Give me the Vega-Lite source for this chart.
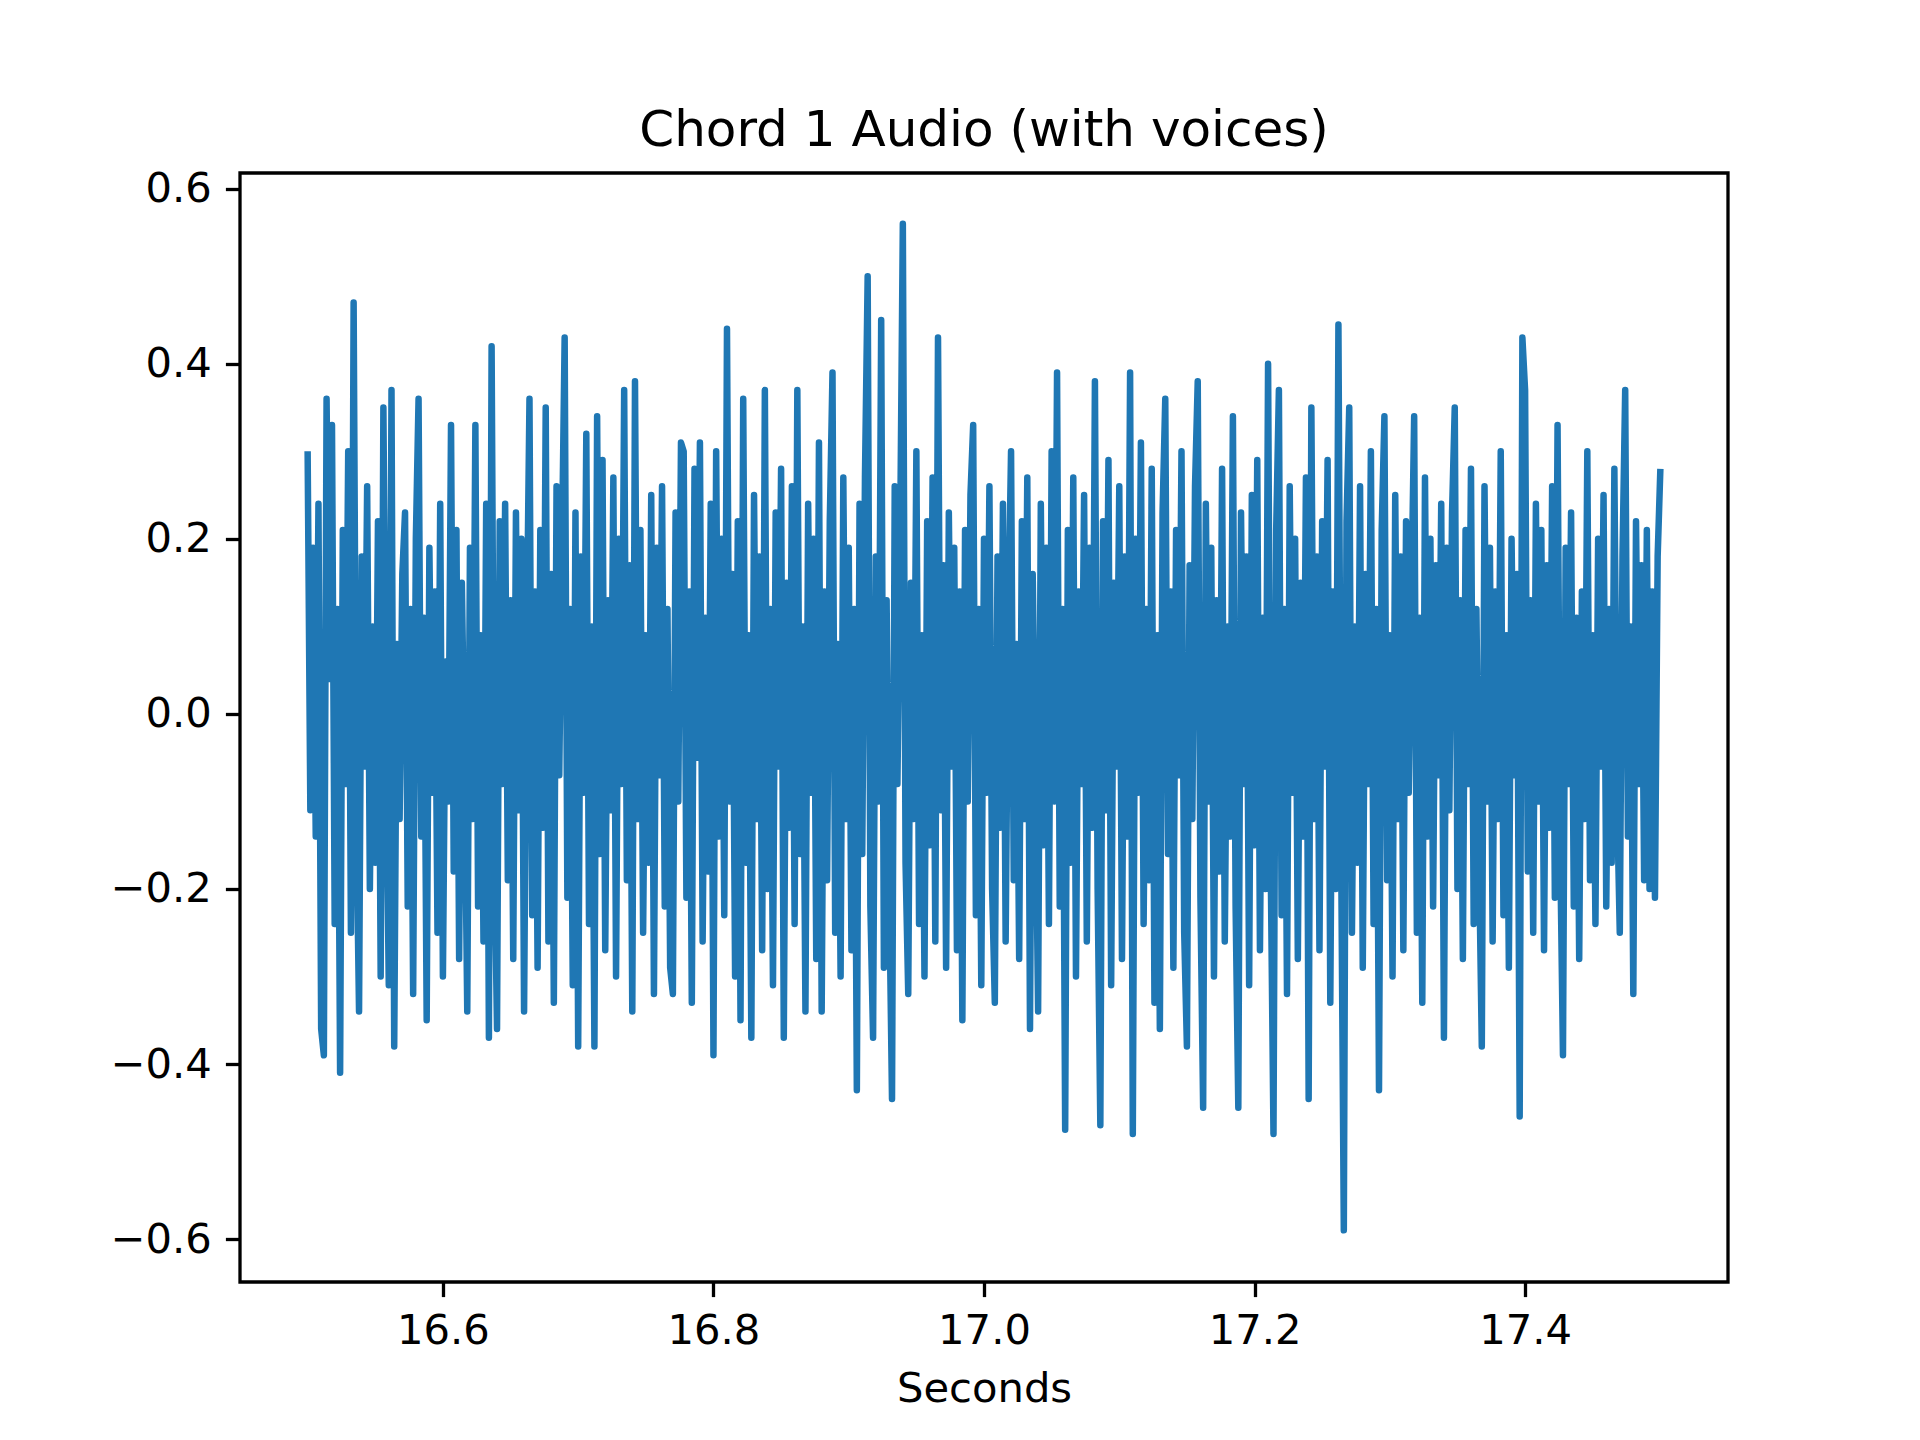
{
  "$schema": "https://vega.github.io/schema/vega-lite/v6.json",
  "autosize": "none",
  "width": 1488,
  "height": 1109,
  "padding": {"left": 240, "top": 173, "right": 192, "bottom": 158},
  "background": "white",
  "title": {
    "text": "Chord 1 Audio (with voices)",
    "font": "DejaVu Sans",
    "fontSize": 50,
    "fontWeight": "normal",
    "color": "black",
    "anchor": "middle",
    "baseline": "alphabetic",
    "offset": -27
  },
  "data": {
    "values": [
      {"s":16.500,"a":0.30},{"s":16.502,"a":-0.11},{"s":16.504,"a":0.19},{"s":16.506,"a":-0.14},{"s":16.508,"a":0.24},{"s":16.510,"a":-0.36},{"s":16.512,"a":-0.39},{"s":16.514,"a":0.36},{"s":16.516,"a":0.04},{"s":16.518,"a":0.33},
      {"s":16.520,"a":-0.24},{"s":16.522,"a":0.12},{"s":16.524,"a":-0.41},{"s":16.526,"a":0.21},{"s":16.528,"a":-0.08},{"s":16.530,"a":0.30},{"s":16.532,"a":-0.25},{"s":16.534,"a":0.47},{"s":16.536,"a":-0.12},{"s":16.538,"a":-0.34},
      {"s":16.540,"a":0.18},{"s":16.542,"a":-0.06},{"s":16.544,"a":0.26},{"s":16.546,"a":-0.20},{"s":16.548,"a":0.10},{"s":16.550,"a":-0.17},{"s":16.552,"a":0.22},{"s":16.554,"a":-0.30},{"s":16.556,"a":0.35},{"s":16.558,"a":-0.05},
      {"s":16.560,"a":-0.31},{"s":16.562,"a":0.37},{"s":16.564,"a":-0.38},{"s":16.566,"a":0.08},{"s":16.568,"a":-0.12},{"s":16.570,"a":0.16},{"s":16.572,"a":0.23},{"s":16.574,"a":-0.22},{"s":16.576,"a":0.12},{"s":16.578,"a":-0.32},
      {"s":16.580,"a":0.20},{"s":16.582,"a":0.36},{"s":16.584,"a":-0.14},{"s":16.586,"a":0.11},{"s":16.588,"a":-0.35},{"s":16.590,"a":0.19},{"s":16.592,"a":-0.09},{"s":16.594,"a":0.14},{"s":16.596,"a":-0.25},{"s":16.598,"a":0.24},
      {"s":16.600,"a":-0.30},{"s":16.602,"a":0.06},{"s":16.604,"a":-0.10},{"s":16.606,"a":0.33},{"s":16.608,"a":-0.18},{"s":16.610,"a":0.21},{"s":16.612,"a":-0.28},{"s":16.614,"a":0.15},{"s":16.616,"a":-0.06},{"s":16.618,"a":-0.34},
      {"s":16.620,"a":0.19},{"s":16.622,"a":-0.12},{"s":16.624,"a":0.33},{"s":16.626,"a":-0.22},{"s":16.628,"a":0.09},{"s":16.630,"a":-0.26},{"s":16.632,"a":0.24},{"s":16.634,"a":-0.37},{"s":16.636,"a":0.42},{"s":16.638,"a":-0.15},
      {"s":16.640,"a":-0.36},{"s":16.642,"a":0.22},{"s":16.644,"a":-0.08},{"s":16.646,"a":0.24},{"s":16.648,"a":-0.19},{"s":16.650,"a":0.13},{"s":16.652,"a":-0.28},{"s":16.654,"a":0.23},{"s":16.656,"a":-0.11},{"s":16.658,"a":0.20},
      {"s":16.660,"a":-0.34},{"s":16.662,"a":0.09},{"s":16.664,"a":0.36},{"s":16.666,"a":-0.23},{"s":16.668,"a":0.14},{"s":16.670,"a":-0.29},{"s":16.672,"a":0.21},{"s":16.674,"a":-0.13},{"s":16.676,"a":0.35},{"s":16.678,"a":-0.26},
      {"s":16.680,"a":0.16},{"s":16.682,"a":-0.33},{"s":16.684,"a":0.26},{"s":16.686,"a":-0.07},{"s":16.688,"a":0.19},{"s":16.690,"a":0.43},{"s":16.692,"a":-0.21},{"s":16.694,"a":0.12},{"s":16.696,"a":-0.31},{"s":16.698,"a":0.23},
      {"s":16.700,"a":-0.38},{"s":16.702,"a":0.18},{"s":16.704,"a":-0.09},{"s":16.706,"a":0.32},{"s":16.708,"a":-0.24},{"s":16.710,"a":0.10},{"s":16.712,"a":-0.38},{"s":16.714,"a":0.34},{"s":16.716,"a":-0.16},{"s":16.718,"a":0.29},
      {"s":16.720,"a":-0.27},{"s":16.722,"a":0.13},{"s":16.724,"a":-0.11},{"s":16.726,"a":0.27},{"s":16.728,"a":-0.30},{"s":16.730,"a":0.20},{"s":16.732,"a":-0.08},{"s":16.734,"a":0.37},{"s":16.736,"a":-0.19},{"s":16.738,"a":0.17},
      {"s":16.740,"a":-0.34},{"s":16.742,"a":0.38},{"s":16.744,"a":-0.12},{"s":16.746,"a":0.21},{"s":16.748,"a":-0.25},{"s":16.750,"a":0.09},{"s":16.752,"a":-0.17},{"s":16.754,"a":0.25},{"s":16.756,"a":-0.32},{"s":16.758,"a":0.19},
      {"s":16.760,"a":-0.07},{"s":16.762,"a":0.26},{"s":16.764,"a":-0.22},{"s":16.766,"a":0.12},{"s":16.768,"a":-0.29},{"s":16.770,"a":-0.32},{"s":16.772,"a":0.23},{"s":16.774,"a":-0.10},{"s":16.776,"a":0.31},{"s":16.778,"a":0.30},
      {"s":16.780,"a":-0.21},{"s":16.782,"a":0.14},{"s":16.784,"a":-0.33},{"s":16.786,"a":0.28},{"s":16.788,"a":-0.05},{"s":16.790,"a":0.31},{"s":16.792,"a":-0.26},{"s":16.794,"a":0.11},{"s":16.796,"a":-0.18},{"s":16.798,"a":0.24},
      {"s":16.800,"a":-0.39},{"s":16.802,"a":0.30},{"s":16.804,"a":-0.14},{"s":16.806,"a":0.20},{"s":16.808,"a":-0.23},{"s":16.810,"a":0.44},{"s":16.812,"a":-0.10},{"s":16.814,"a":0.16},{"s":16.816,"a":-0.30},{"s":16.818,"a":0.22},
      {"s":16.820,"a":-0.35},{"s":16.822,"a":0.36},{"s":16.824,"a":-0.17},{"s":16.826,"a":0.09},{"s":16.828,"a":-0.37},{"s":16.830,"a":0.25},{"s":16.832,"a":-0.12},{"s":16.834,"a":0.18},{"s":16.836,"a":-0.27},{"s":16.838,"a":0.37},
      {"s":16.840,"a":-0.20},{"s":16.842,"a":0.12},{"s":16.844,"a":-0.31},{"s":16.846,"a":0.23},{"s":16.848,"a":-0.06},{"s":16.850,"a":0.28},{"s":16.852,"a":-0.37},{"s":16.854,"a":0.15},{"s":16.856,"a":-0.13},{"s":16.858,"a":0.26},
      {"s":16.860,"a":-0.24},{"s":16.862,"a":0.37},{"s":16.864,"a":-0.16},{"s":16.866,"a":0.10},{"s":16.868,"a":-0.34},{"s":16.870,"a":0.24},{"s":16.872,"a":-0.09},{"s":16.874,"a":0.20},{"s":16.876,"a":-0.28},{"s":16.878,"a":0.31},
      {"s":16.880,"a":-0.34},{"s":16.882,"a":0.14},{"s":16.884,"a":-0.19},{"s":16.886,"a":0.22},{"s":16.888,"a":0.39},{"s":16.890,"a":-0.25},{"s":16.892,"a":0.08},{"s":16.894,"a":-0.30},{"s":16.896,"a":0.27},{"s":16.898,"a":-0.12},
      {"s":16.900,"a":0.19},{"s":16.902,"a":-0.27},{"s":16.904,"a":0.12},{"s":16.906,"a":-0.43},{"s":16.908,"a":0.24},{"s":16.910,"a":-0.16},{"s":16.912,"a":0.27},{"s":16.914,"a":0.50},{"s":16.916,"a":-0.22},{"s":16.918,"a":-0.37},
      {"s":16.920,"a":0.18},{"s":16.922,"a":-0.10},{"s":16.924,"a":0.45},{"s":16.926,"a":-0.29},{"s":16.928,"a":0.13},{"s":16.930,"a":-0.21},{"s":16.932,"a":-0.44},{"s":16.934,"a":0.26},{"s":16.936,"a":-0.08},{"s":16.938,"a":0.20},
      {"s":16.940,"a":0.56},{"s":16.942,"a":-0.17},{"s":16.944,"a":-0.32},{"s":16.946,"a":0.15},{"s":16.948,"a":-0.12},{"s":16.950,"a":0.30},{"s":16.952,"a":-0.24},{"s":16.954,"a":0.09},{"s":16.956,"a":-0.30},{"s":16.958,"a":0.22},
      {"s":16.960,"a":-0.15},{"s":16.962,"a":0.27},{"s":16.964,"a":-0.26},{"s":16.966,"a":0.43},{"s":16.968,"a":-0.11},{"s":16.970,"a":0.17},{"s":16.972,"a":-0.29},{"s":16.974,"a":0.23},{"s":16.976,"a":-0.06},{"s":16.978,"a":0.19},
      {"s":16.980,"a":-0.27},{"s":16.982,"a":0.14},{"s":16.984,"a":-0.35},{"s":16.986,"a":0.21},{"s":16.988,"a":-0.10},{"s":16.990,"a":0.25},{"s":16.992,"a":0.33},{"s":16.994,"a":-0.23},{"s":16.996,"a":0.12},{"s":16.998,"a":-0.31},
      {"s":17.000,"a":0.20},{"s":17.002,"a":-0.09},{"s":17.004,"a":0.26},{"s":17.006,"a":-0.20},{"s":17.008,"a":-0.33},{"s":17.010,"a":0.18},{"s":17.012,"a":-0.13},{"s":17.014,"a":0.24},{"s":17.016,"a":-0.26},{"s":17.018,"a":0.11},
      {"s":17.020,"a":0.30},{"s":17.022,"a":-0.19},{"s":17.024,"a":0.08},{"s":17.026,"a":-0.28},{"s":17.028,"a":0.22},{"s":17.030,"a":-0.12},{"s":17.032,"a":0.27},{"s":17.034,"a":-0.36},{"s":17.036,"a":0.16},{"s":17.038,"a":-0.07},
      {"s":17.040,"a":-0.34},{"s":17.042,"a":0.24},{"s":17.044,"a":-0.15},{"s":17.046,"a":0.19},{"s":17.048,"a":-0.24},{"s":17.050,"a":0.30},{"s":17.052,"a":-0.10},{"s":17.054,"a":0.39},{"s":17.056,"a":-0.22},{"s":17.058,"a":0.12},
      {"s":17.060,"a":-0.475},{"s":17.062,"a":0.21},{"s":17.064,"a":-0.17},{"s":17.066,"a":0.27},{"s":17.068,"a":-0.30},{"s":17.070,"a":0.14},{"s":17.072,"a":-0.08},{"s":17.074,"a":0.25},{"s":17.076,"a":-0.26},{"s":17.078,"a":0.19},
      {"s":17.080,"a":-0.13},{"s":17.082,"a":0.38},{"s":17.084,"a":-0.20},{"s":17.086,"a":-0.47},{"s":17.088,"a":0.22},{"s":17.090,"a":-0.11},{"s":17.092,"a":0.29},{"s":17.094,"a":-0.31},{"s":17.096,"a":0.15},{"s":17.098,"a":-0.06},
      {"s":17.100,"a":0.26},{"s":17.102,"a":-0.28},{"s":17.104,"a":0.18},{"s":17.106,"a":-0.14},{"s":17.108,"a":0.39},{"s":17.110,"a":-0.48},{"s":17.112,"a":0.20},{"s":17.114,"a":-0.09},{"s":17.116,"a":0.31},{"s":17.118,"a":-0.24},
      {"s":17.120,"a":0.12},{"s":17.122,"a":-0.19},{"s":17.124,"a":0.28},{"s":17.126,"a":-0.33},{"s":17.128,"a":0.09},{"s":17.130,"a":-0.36},{"s":17.132,"a":0.23},{"s":17.134,"a":0.36},{"s":17.136,"a":-0.16},{"s":17.138,"a":0.14},
      {"s":17.140,"a":-0.29},{"s":17.142,"a":0.21},{"s":17.144,"a":-0.07},{"s":17.146,"a":0.30},{"s":17.148,"a":-0.25},{"s":17.150,"a":-0.38},{"s":17.152,"a":0.17},{"s":17.154,"a":-0.12},{"s":17.156,"a":0.26},{"s":17.158,"a":0.38},
      {"s":17.160,"a":-0.21},{"s":17.162,"a":-0.45},{"s":17.164,"a":0.24},{"s":17.166,"a":-0.10},{"s":17.168,"a":0.19},{"s":17.170,"a":-0.30},{"s":17.172,"a":0.13},{"s":17.174,"a":-0.18},{"s":17.176,"a":0.28},{"s":17.178,"a":-0.26},
      {"s":17.180,"a":0.10},{"s":17.182,"a":-0.14},{"s":17.184,"a":0.34},{"s":17.186,"a":-0.22},{"s":17.188,"a":-0.45},{"s":17.190,"a":0.23},{"s":17.192,"a":-0.08},{"s":17.194,"a":0.18},{"s":17.196,"a":-0.31},{"s":17.198,"a":0.25},
      {"s":17.200,"a":-0.15},{"s":17.202,"a":0.29},{"s":17.204,"a":-0.27},{"s":17.206,"a":0.11},{"s":17.208,"a":-0.20},{"s":17.210,"a":0.40},{"s":17.212,"a":-0.18},{"s":17.214,"a":-0.48},{"s":17.216,"a":0.21},{"s":17.218,"a":0.37},
      {"s":17.220,"a":-0.23},{"s":17.222,"a":0.12},{"s":17.224,"a":-0.32},{"s":17.226,"a":0.26},{"s":17.228,"a":-0.09},{"s":17.230,"a":0.20},{"s":17.232,"a":-0.28},{"s":17.234,"a":0.15},{"s":17.236,"a":-0.14},{"s":17.238,"a":0.27},
      {"s":17.240,"a":-0.44},{"s":17.242,"a":0.35},{"s":17.244,"a":-0.12},{"s":17.246,"a":0.18},{"s":17.248,"a":-0.27},{"s":17.250,"a":0.22},{"s":17.252,"a":-0.06},{"s":17.254,"a":0.29},{"s":17.256,"a":-0.33},{"s":17.258,"a":0.14},
      {"s":17.260,"a":-0.20},{"s":17.262,"a":0.445},{"s":17.264,"a":-0.15},{"s":17.266,"a":-0.59},{"s":17.268,"a":0.22},{"s":17.270,"a":0.35},{"s":17.272,"a":-0.25},{"s":17.274,"a":0.10},{"s":17.276,"a":-0.17},{"s":17.278,"a":0.26},
      {"s":17.280,"a":-0.29},{"s":17.282,"a":0.16},{"s":17.284,"a":-0.08},{"s":17.286,"a":0.30},{"s":17.288,"a":-0.24},{"s":17.290,"a":0.12},{"s":17.292,"a":-0.43},{"s":17.294,"a":0.21},{"s":17.296,"a":0.34},{"s":17.298,"a":-0.19},
      {"s":17.300,"a":0.09},{"s":17.302,"a":-0.30},{"s":17.304,"a":0.25},{"s":17.306,"a":-0.12},{"s":17.308,"a":0.18},{"s":17.310,"a":-0.27},{"s":17.312,"a":0.22},{"s":17.314,"a":-0.09},{"s":17.316,"a":0.14},{"s":17.318,"a":0.34},
      {"s":17.320,"a":-0.25},{"s":17.322,"a":0.11},{"s":17.324,"a":-0.33},{"s":17.326,"a":0.27},{"s":17.328,"a":-0.14},{"s":17.330,"a":0.20},{"s":17.332,"a":-0.22},{"s":17.334,"a":0.17},{"s":17.336,"a":-0.07},{"s":17.338,"a":0.24},
      {"s":17.340,"a":-0.37},{"s":17.342,"a":0.19},{"s":17.344,"a":-0.11},{"s":17.346,"a":0.23},{"s":17.348,"a":0.35},{"s":17.350,"a":-0.20},{"s":17.352,"a":0.13},{"s":17.354,"a":-0.28},{"s":17.356,"a":0.21},{"s":17.358,"a":-0.08},
      {"s":17.360,"a":0.28},{"s":17.362,"a":-0.24},{"s":17.364,"a":0.12},{"s":17.366,"a":-0.17},{"s":17.368,"a":-0.38},{"s":17.370,"a":0.26},{"s":17.372,"a":-0.10},{"s":17.374,"a":0.19},{"s":17.376,"a":-0.26},{"s":17.378,"a":0.14},
      {"s":17.380,"a":-0.12},{"s":17.382,"a":0.30},{"s":17.384,"a":-0.23},{"s":17.386,"a":0.09},{"s":17.388,"a":-0.29},{"s":17.390,"a":0.20},{"s":17.392,"a":-0.07},{"s":17.394,"a":0.16},{"s":17.396,"a":-0.46},{"s":17.398,"a":0.43},
      {"s":17.400,"a":0.37},{"s":17.402,"a":-0.18},{"s":17.404,"a":0.13},{"s":17.406,"a":-0.25},{"s":17.408,"a":0.24},{"s":17.410,"a":-0.10},{"s":17.412,"a":0.21},{"s":17.414,"a":-0.27},{"s":17.416,"a":0.17},{"s":17.418,"a":-0.13},
      {"s":17.420,"a":0.26},{"s":17.422,"a":-0.21},{"s":17.424,"a":0.33},{"s":17.426,"a":-0.16},{"s":17.428,"a":-0.39},{"s":17.430,"a":0.19},{"s":17.432,"a":-0.08},{"s":17.434,"a":0.23},{"s":17.436,"a":-0.22},{"s":17.438,"a":0.11},
      {"s":17.440,"a":-0.28},{"s":17.442,"a":0.14},{"s":17.444,"a":-0.12},{"s":17.446,"a":0.30},{"s":17.448,"a":-0.19},{"s":17.450,"a":0.09},{"s":17.452,"a":-0.24},{"s":17.454,"a":0.20},{"s":17.456,"a":-0.06},{"s":17.458,"a":0.25},
      {"s":17.460,"a":-0.22},{"s":17.462,"a":0.12},{"s":17.464,"a":-0.17},{"s":17.466,"a":0.28},{"s":17.468,"a":-0.10},{"s":17.470,"a":-0.25},{"s":17.472,"a":0.18},{"s":17.474,"a":0.37},{"s":17.476,"a":-0.14},{"s":17.478,"a":0.10},
      {"s":17.480,"a":-0.32},{"s":17.482,"a":0.22},{"s":17.484,"a":-0.08},{"s":17.486,"a":0.17},{"s":17.488,"a":-0.19},{"s":17.490,"a":0.21},{"s":17.492,"a":-0.20},{"s":17.494,"a":0.14},{"s":17.496,"a":-0.21},{"s":17.498,"a":0.18},
      {"s":17.500,"a":0.28}
    ]
  },
  "mark": {
    "type": "line",
    "color": "#1f77b4",
    "strokeWidth": 6.5,
    "strokeJoin": "round",
    "strokeCap": "butt",
    "clip": true
  },
  "encoding": {
    "x": {
      "field": "s",
      "type": "quantitative",
      "title": "Seconds",
      "scale": {"domain": [16.45, 17.55], "nice": false, "zero": false},
      "axis": {
        "values": [16.6, 16.8, 17.0, 17.2, 17.4],
        "format": ".1f",
        "grid": false,
        "domain": false,
        "titlePadding": 16,
        "titleBaseline": "top"
      }
    },
    "y": {
      "field": "a",
      "type": "quantitative",
      "title": null,
      "scale": {"domain": [-0.649, 0.618], "nice": false, "zero": false},
      "axis": {
        "values": [-0.6, -0.4, -0.2, 0.0, 0.2, 0.4, 0.6],
        "format": ".1f",
        "grid": false,
        "domain": false
      }
    }
  },
  "config": {
    "font": "DejaVu Sans",
    "view": {"stroke": "black", "strokeWidth": 3.3, "fill": "white"},
    "axis": {
      "labelFont": "DejaVu Sans",
      "labelFontSize": 41.7,
      "labelColor": "black",
      "labelPadding": 14,
      "tickSize": 14.6,
      "tickWidth": 3.3,
      "tickColor": "black",
      "titleFont": "DejaVu Sans",
      "titleFontSize": 41.7,
      "titleFontWeight": "normal",
      "titleColor": "black",
      "labelFlush": false,
      "labelOverlap": false
    }
  }
}
